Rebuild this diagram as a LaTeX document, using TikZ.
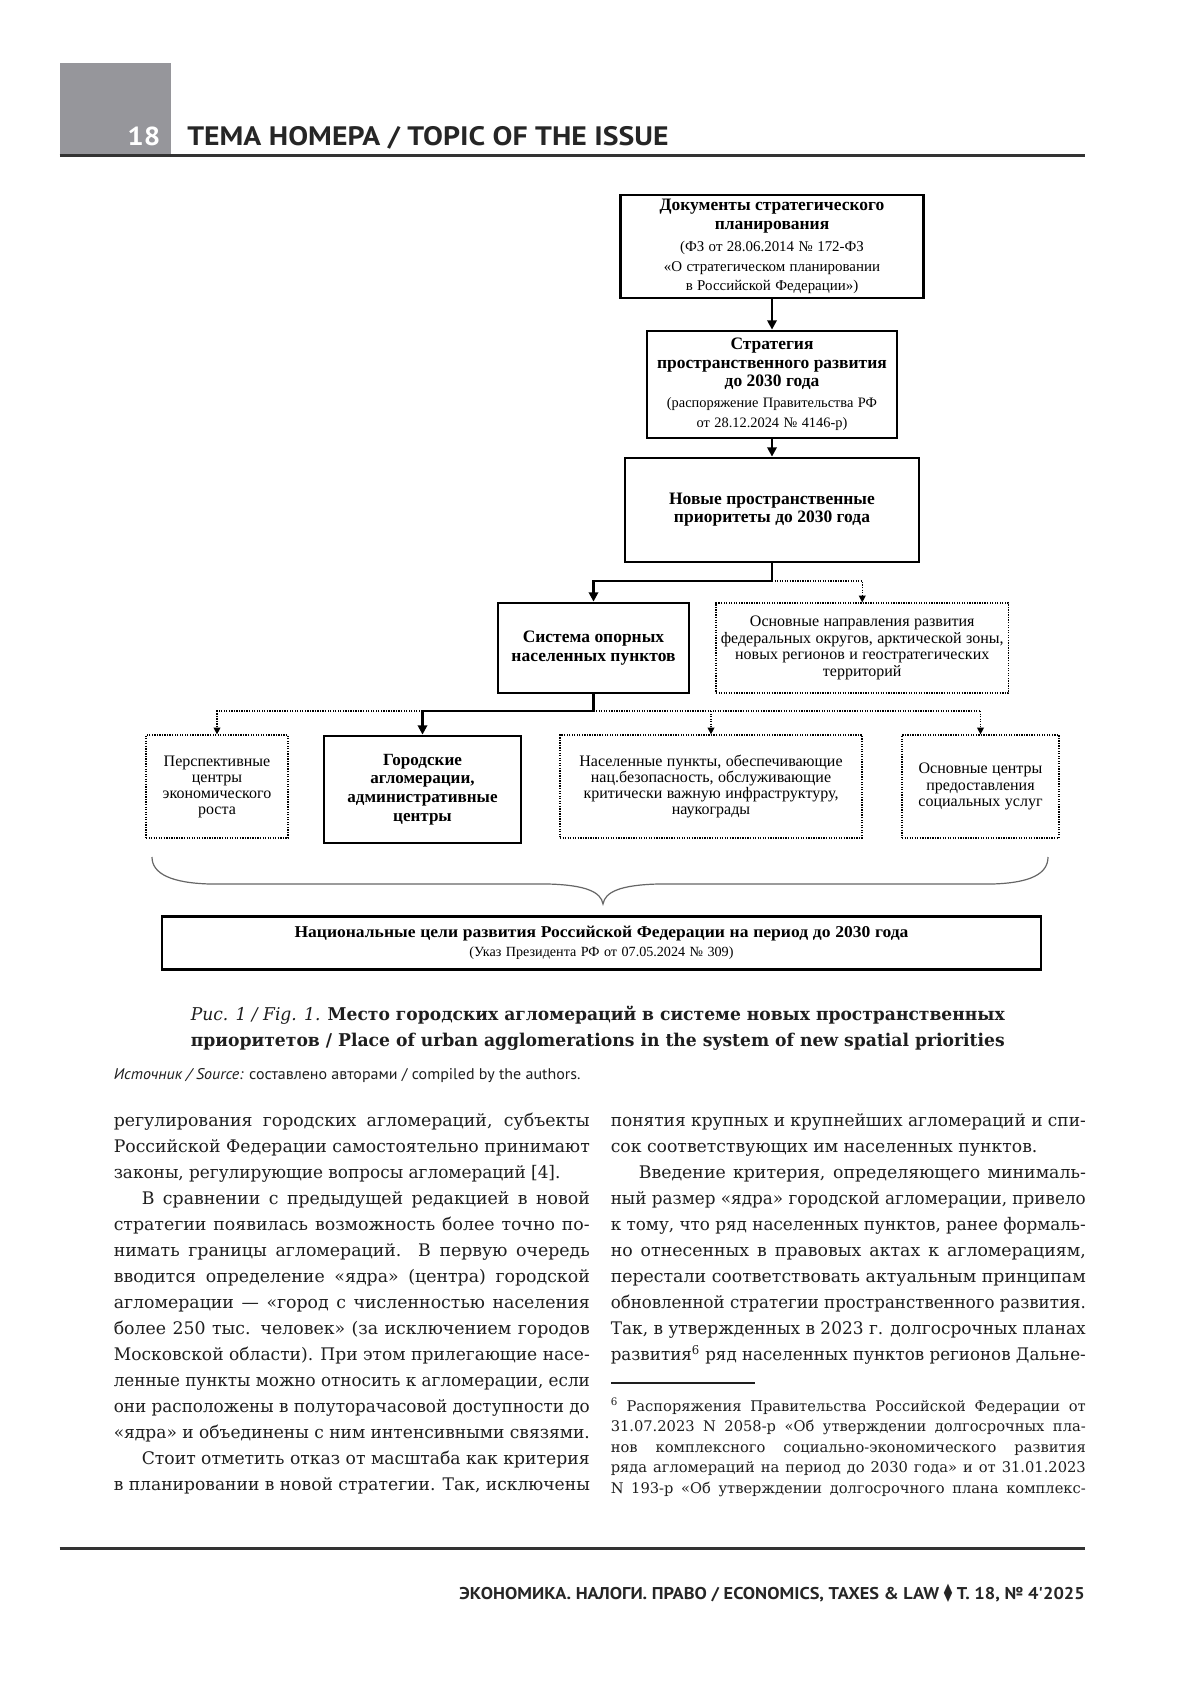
\documentclass[tikz,border=0pt]{standalone}
\usepackage{fontspec}
\usepackage{graphicx}
\setmainfont{Liberation Serif}
\newfontfamily\bodyfont{DejaVu Serif}
\newfontfamily\ptsans{PT Sans}
\newfontfamily\djsans{DejaVu Sans}
\usetikzlibrary{arrows.meta}

\newsavebox\lnbox
\newcommand\jl[2]{\sbox\lnbox{#2}\ifdim\wd\lnbox>#1\relax\resizebox{#1}{\height}{\usebox\lnbox}\else\makebox[#1][s]{#2}\fi}
\newcommand\fw[2]{\resizebox{#1}{\height}{#2}}

\definecolor{hdrgrey}{RGB}{150,150,155}
\definecolor{ink}{RGB}{30,30,30}

\tikzset{
  thickbox/.style={draw=black, line width=2.1pt, inner sep=0pt, align=center, text=black},
  dotbox/.style={draw=black, line width=0.95pt, dash pattern=on 0.95pt off 0.95pt, inner sep=0pt, align=center, text=black},
  solidc/.style={draw=black, line width=2pt, -{Triangle[length=7pt,width=7pt]}},
  dotc/.style={draw=black, line width=0.95pt, dash pattern=on 0.95pt off 0.95pt, -{Triangle[length=5pt,width=5pt]}},
  dotl/.style={draw=black, line width=0.95pt, dash pattern=on 0.95pt off 0.95pt},
  bl/.style={anchor=base west, inner sep=0pt, text=ink, font=\bodyfont\fontsize{13}{15}\selectfont},
  fl/.style={anchor=base west, inner sep=0pt, text=ink, font=\bodyfont\fontsize{11}{13}\selectfont},
}

\begin{document}
\begin{tikzpicture}[x=0.75pt,y=-0.75pt]
\useasboundingbox (0,0) rectangle (1200,1697);
\fill[white] (0,0) rectangle (1200,1697);

% ---------- header ----------
\fill[hdrgrey] (59.5,62.8) rectangle (171,154.7);
\node[anchor=base west, inner sep=0pt, text=white, font=\ptsans\bfseries\fontsize{19.5}{20}\selectfont] (pagenum) at (127,145) {\fw{24.75pt}{18}};
\node[anchor=base west, inner sep=0pt, text=black!85, font=\ptsans\bfseries\fontsize{20}{20}\selectfont] (rubric) at (187,145) {\fw{361pt}{ТЕМА НОМЕРА / TOPIC OF THE ISSUE}};
\draw[black!80, line width=1.95pt] (59.5,155.5) -- (1085,155.5);

% ---------- diagram ----------
\node[thickbox, minimum width=227.25pt, minimum height=77.25pt, text width=222pt] (b1) at (772,246.5)
 {\bfseries\fontsize{13.1}{13.9}\selectfont Документы стратегического\\планирования\par
  \vspace{2.3pt}\mdseries\fontsize{11.2}{14.6}\selectfont (ФЗ от 28.06.2014 № 172-ФЗ\\«О стратегическом планировании\\в Российской Федерации»)\par};

\node[thickbox, minimum width=187.5pt, minimum height=80.25pt, text width=184pt] (b2) at (772,384.5)
 {\bfseries\fontsize{13.1}{13.9}\selectfont Стратегия\\пространственного развития\\до 2030 года\par
  \mdseries\fontsize{10.8}{15.4}\selectfont (распоряжение Правительства РФ\\от 28.12.2024 № 4146-р)\par};

\node[thickbox, minimum width=220.5pt, minimum height=78pt, text width=215pt] (b3) at (772,510)
 {\bfseries\fontsize{13.1}{13.5}\selectfont Новые пространственные\\приоритеты до 2030 года\par};

\node[thickbox, minimum width=143.25pt, minimum height=67.5pt, text width=140pt] (b4) at (593.5,648)
 {\bfseries\fontsize{13.1}{14.6}\selectfont Система опорных\\населенных пунктов\par};

\node[dotbox, minimum width=219.4pt, minimum height=67.5pt, text width=216pt] (b5) at (862.25,648)
 {\fontsize{12}{12.5}\selectfont Основные направления развития\\федеральных округов, арктической зоны,\\новых регионов и геостратегических\\территорий\par};

\node[dotbox, minimum width=106.5pt, minimum height=77.25pt, text width=104pt] (rp) at (217,786.5)
 {\fontsize{12}{12}\selectfont Перспективные\\центры\\экономического\\роста\par};

\node[thickbox, minimum width=147.75pt, minimum height=80.25pt, text width=145pt] (rg) at (422.5,789.5)
 {\bfseries\fontsize{12.8}{14}\selectfont Городские\\агломерации,\\административные\\центры\par};

\node[dotbox, minimum width=226.5pt, minimum height=77.25pt, text width=224pt] (rn) at (711,786.5)
 {\fontsize{12}{12}\selectfont Населенные пункты, обеспечивающие\\нац.безопасность, обслуживающие\\критически важную инфраструктуру,\\наукограды\par};

\node[dotbox, minimum width=117.75pt, minimum height=77.25pt, text width=115pt] (rs) at (980.5,786.5)
 {\fontsize{12}{12.4}\selectfont Основные центры\\предоставления\\социальных услуг\par};

\node[thickbox, minimum width=659.25pt, minimum height=39.75pt, text width=650pt] (bot) at (601.5,943)
 {\bfseries\fontsize{12.4}{14}\selectfont \fw{460.5pt}{Национальные цели развития Российской Федерации на период до 2030 года}\par
  \mdseries\fontsize{10.5}{14}\selectfont \fw{198pt}{(Указ Президента РФ от 07.05.2024 № 309)}\par};

% connectors
\coordinate (j1) at (772,581);
\coordinate (j2) at (593.5,711);
\draw[solidc] (b1.south) -- (b2.north);
\draw[solidc] (b2.south) -- (b3.north);
\draw[solidc] (b3.south) -- (j1) -| (b4.north);
\draw[dotc] (j1) -| (b5.north);
\draw[solidc] (b4.south) -- (j2) -| (rg.north);
\draw[dotc] (rg.north |- j2) -| (rp.north);
\draw[dotl] (j2) -- (rs.north |- j2);
\draw[dotc] (rn.north |- j2) -- (rn.north);
\draw[dotc] (rs.north |- j2) -- (rs.north);

% brace
\draw[black!60, line width=0.9pt]
  (152,857) .. controls (152,874) and (172,883) .. (210,884) -- (548,884)
  .. controls (586,885) and (601,892) .. (603,904)
  .. controls (605,892) and (620,885) .. (658,884) -- (992,884)
  .. controls (1030,883) and (1048,874) .. (1048,857);

% ---------- caption ----------
\node[anchor=base west, inner sep=0pt, text=ink, font=\bodyfont\fontsize{13.2}{15}\selectfont] (cap1) at (190.5,1020)
 {\fw{610.5pt}{\itshape Рис. 1 / Fig. 1. \bfseries\upshape Место городских агломераций в системе новых пространственных}};
\node[anchor=base west, inner sep=0pt, text=ink, font=\bodyfont\bfseries\fontsize{13.2}{15}\selectfont] (cap2) at (190.5,1046)
 {\fw{610.5pt}{приоритетов / Place of urban agglomerations in the system of new spatial priorities}};
\node[anchor=base west, inner sep=0pt, text=ink, font=\ptsans\fontsize{11.6}{13}\selectfont] (src) at (113.5,1079)
 {\fw{350pt}{\itshape Источник / Source: \upshape составлено авторами / compiled by the authors.}};

% ---------- left column ----------
\node[bl] (l1) at (113.5,1126) {\jl{357pt}{регулирования городских агломераций, субъекты}};
\node[bl] (l2) at (113.5,1152.05) {\jl{357pt}{Российской Федерации самостоятельно принимают}};
\node[bl] (l3) at (113.5,1178.1) {\fw{335pt}{законы, регулирующие вопросы агломераций [4].}};
\node[bl] (l4) at (141.5,1204.15) {\jl{336pt}{В сравнении с предыдущей редакцией в новой}};
\node[bl] (l5) at (113.5,1230.2) {\jl{357pt}{стратегии появилась возможность более точно по-}};
\node[bl] (l6) at (113.5,1256.25) {\jl{357pt}{нимать границы агломераций. В первую очередь}};
\node[bl] (l7) at (113.5,1282.3) {\jl{357pt}{вводится определение «ядра» (центра) городской}};
\node[bl] (l8) at (113.5,1308.35) {\jl{357pt}{агломерации — «город с численностью населения}};
\node[bl] (l9) at (113.5,1334.4) {\jl{357pt}{более 250 тыс. человек» (за исключением городов}};
\node[bl] (l10) at (113.5,1360.45) {\jl{357pt}{Московской области). При этом прилегающие насе-}};
\node[bl] (l11) at (113.5,1386.5) {\jl{357pt}{ленные пункты можно относить к агломерации, если}};
\node[bl] (l12) at (113.5,1412.55) {\jl{357pt}{они расположены в полуторачасовой доступности до}};
\node[bl] (l13) at (113.5,1438.6) {\jl{357pt}{«ядра» и объединены с ним интенсивными связями.}};
\node[bl] (l14) at (141.5,1464.65) {\jl{336pt}{Стоит отметить отказ от масштаба как критерия}};
\node[bl] (l15) at (113.5,1490.7) {\jl{357pt}{в планировании в новой стратегии. Так, исключены}};

% ---------- right column ----------
\node[bl] (r1) at (610.5,1126) {\jl{356.25pt}{понятия крупных и крупнейших агломераций и спи-}};
\node[bl] (r2) at (610.5,1152.05) {\fw{320pt}{сок соответствующих им населенных пунктов.}};
\node[bl] (r3) at (638.5,1178.1) {\jl{335.25pt}{Введение критерия, определяющего минималь-}};
\node[bl] (r4) at (610.5,1204.15) {\jl{356.25pt}{ный размер «ядра» городской агломерации, привело}};
\node[bl] (r5) at (610.5,1230.2) {\jl{356.25pt}{к тому, что ряд населенных пунктов, ранее формаль-}};
\node[bl] (r6) at (610.5,1256.25) {\jl{356.25pt}{но отнесенных в правовых актах к агломерациям,}};
\node[bl] (r7) at (610.5,1282.3) {\jl{356.25pt}{перестали соответствовать актуальным принципам}};
\node[bl] (r8) at (610.5,1308.35) {\jl{356.25pt}{обновленной стратегии пространственного развития.}};
\node[bl] (r9) at (610.5,1334.4) {\jl{356.25pt}{Так, в утвержденных в 2023 г. долгосрочных планах}};
\node[bl] (r10) at (610.5,1360.45) {\jl{356.25pt}{развития\textsuperscript{6} ряд населенных пунктов регионов Дальне-}};

% footnote
\draw[ink, line width=0.8pt] (611,1383) -- (755,1383);
\node[fl] (f1) at (610.5,1411) {\jl{356.25pt}{\textsuperscript{6} Распоряжения Правительства Российской Федерации от}};
\node[fl] (f2) at (610.5,1431.5) {\jl{356.25pt}{31.07.2023 N 2058-р «Об утверждении долгосрочных пла-}};
\node[fl] (f3) at (610.5,1452) {\jl{356.25pt}{нов комплексного социально-экономического развития}};
\node[fl] (f4) at (610.5,1472.5) {\jl{356.25pt}{ряда агломераций на период до 2030 года» и от 31.01.2023}};
\node[fl] (f5) at (610.5,1493) {\jl{356.25pt}{N 193-р «Об утверждении долгосрочного плана комплекс-}};

% ---------- footer ----------
\draw[black!80, line width=1.95pt] (59.5,1548.5) -- (1085,1548.5);
\node[anchor=base east, inner sep=0pt, text=black!85, font=\ptsans\bfseries\fontsize{12.8}{14}\selectfont] (foot) at (1085,1599)
 {\fw{469pt}{ЭКОНОМИКА. НАЛОГИ. ПРАВО / ECONOMICS, TAXES \& LAW \scalebox{0.6}[1.4]{\djsans ◆} Т. 18, № 4'2025}};
\end{tikzpicture}
\end{document}
